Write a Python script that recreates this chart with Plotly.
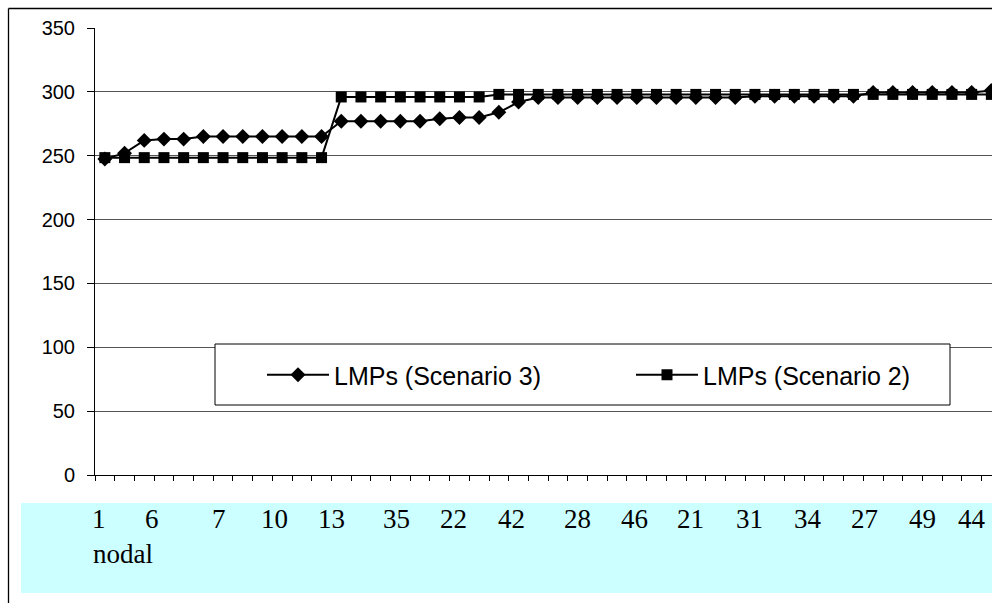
import plotly.graph_objects as go

# Locational marginal prices along the sorted node sequence
lmp_scenario3 = [247.5, 252, 262, 263, 263, 265, 265, 265, 265, 265, 265, 265,
                 277, 277, 277, 277, 277, 279, 280, 280, 284, 292,
                 295.5, 295.5, 295.5, 295.5, 295.5, 295.5, 295.5, 295.5, 295.5, 295.5, 295.5,
                 296.5, 296.5, 296.5, 296.5, 296.5, 296.5,
                 299.5, 299.5, 299.5, 299.5, 299.5, 299.5, 301]
lmp_scenario2 = [248.5, 248.5, 248.5, 248.5, 248.5, 248.5, 248.5, 248.5, 248.5, 248.5, 248.5, 248.5,
                 296, 296, 296, 296, 296, 296, 296, 296,
                 298, 298, 298, 298, 298, 298, 298, 298, 298, 298, 298, 298, 298,
                 298, 298, 298, 298, 298, 298, 298, 298, 298, 298, 298, 298, 298]
positions = list(range(len(lmp_scenario3)))

# Node numbers written under the axis, with their places along the axis
node_labels = ["1", "6", "7", "10", "13", "35", "22", "42", "28", "46",
               "21", "31", "34", "27", "49", "44"]
node_label_x = [-0.3, 2.4, 5.79, 8.63, 11.52, 14.82, 17.72, 20.66, 24.01, 26.9,
                29.75, 32.7, 35.69, 38.58, 41.52, 44.01]

W, H = 992, 603
L, R, T, B = 95, 0, 28, 128
pw, ph = W - L - R, H - T - B


def px(x):
    return (x - L) / pw


def py(y):
    return (H - B - y) / ph


fig = go.Figure()
fig.add_trace(go.Scatter(
    x=positions, y=lmp_scenario3, name="LMPs (Scenario 3)", mode="lines+markers",
    line=dict(color="black", width=2),
    marker=dict(symbol="diamond", size=11.5, color="black"),
))
fig.add_trace(go.Scatter(
    x=positions, y=lmp_scenario2, name="LMPs (Scenario 2)", mode="lines+markers",
    line=dict(color="black", width=2),
    marker=dict(symbol="square", size=11, color="black"),
))

frame = dict(color="black", width=1.3)
shapes = [
    # cyan label band
    dict(type="rect", xref="paper", yref="paper", x0=px(21), x1=px(1000), y0=py(593), y1=py(503),
         line=dict(width=0), fillcolor="#CCFFFF", layer="below"),
    # outer frame: left and top edges
    dict(type="line", xref="paper", yref="paper", x0=px(8.5), x1=px(8.5), y0=py(603), y1=py(8.5),
         line=frame, layer="above"),
    dict(type="line", xref="paper", yref="paper", x0=px(8.5), x1=px(992), y0=py(8.5), y1=py(8.5),
         line=frame, layer="above"),
    # legend box
    dict(type="rect", xref="paper", yref="paper", x0=px(215), x1=px(950), y0=py(405), y1=py(344),
         line=dict(color="black", width=1), fillcolor="white", layer="above"),
]

serif = dict(family="Liberation Serif, Times New Roman, serif", size=27, color="black")
annotations = []
for lab, xv in zip(node_labels, node_label_x):
    annotations.append(dict(
        text=lab, x=xv, y=py(519), xref="x", yref="paper", showarrow=False,
        xanchor="center", yanchor="middle", font=serif,
    ))
annotations.append(dict(
    text="nodal", x=px(91), y=py(554), xref="paper", yref="paper", showarrow=False,
    xanchor="left", yanchor="middle", font=serif,
))

fig.update_layout(
    width=W, height=H, autosize=False,
    margin=dict(l=L, r=R, t=T, b=B, pad=0, autoexpand=False),
    paper_bgcolor="white", plot_bgcolor="white",
    shapes=shapes, annotations=annotations,
    showlegend=True,
    legend=dict(
        orientation="h", x=px(262), xanchor="left", y=py(375), yanchor="middle",
        bgcolor="rgba(0,0,0,0)", borderwidth=0,
        font=dict(family="Liberation Sans, Arial, sans-serif", size=25, color="black"),
        itemwidth=62, entrywidth=292, entrywidthmode="pixels",
    ),
    xaxis=dict(
        range=[-0.5, -0.5 + pw / 19.7], tickmode="linear", tick0=-0.5, dtick=1,
        showticklabels=False, ticks="outside", ticklen=5, tickcolor="black", tickwidth=1,
        showgrid=False, zeroline=False, showline=True, linecolor="black", linewidth=1,
    ),
    yaxis=dict(
        range=[0, 350], tickmode="linear", tick0=0, dtick=50,
        ticks="outside", ticklen=7, tickcolor="black", tickwidth=1,
        ticklabelstandoff=8,
        tickfont=dict(family="Liberation Sans, Arial, sans-serif", size=20, color="black"),
        showgrid=True, gridcolor="#555555", gridwidth=1,
        zeroline=False, showline=True, linecolor="black", linewidth=1,
    ),
)

fig.write_html("out.html")
